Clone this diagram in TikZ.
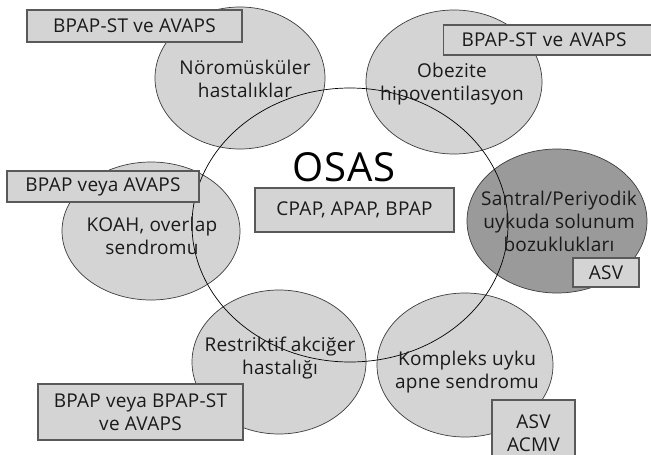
\documentclass[tikz,border=0pt]{standalone}
\usepackage{fontspec}
\setmainfont[LetterSpace=1.5]{Open Sans}
\definecolor{spotColor}{HTML}{D4D4D4}
\definecolor{darkColor}{HTML}{9A9A9A}
\definecolor{lineColor}{HTML}{3C3C3C}
\definecolor{textColor}{HTML}{1A1A1A}

\begin{document}
\begin{tikzpicture}[x=1pt,y=-1pt,
spot/.style={fill=spotColor,draw=lineColor,line width=0.7pt},
tag/.style={fill=spotColor,draw=lineColor!85,line width=1.1pt,inner sep=0pt,
    text=textColor,font=\fontsize{19}{23}\selectfont,align=center},
label/.style={text=textColor,font=\fontsize{19}{23}\selectfont,align=center},
]
\useasboundingbox (0,0) rectangle (651,455);
% disease groups
\path[spot]
    (240,78) ellipse [x radius=85pt,y radius=71pt]
    (454,82) ellipse [x radius=88pt,y radius=72pt]
    (465,365) ellipse [x radius=88pt,y radius=72pt]
    (279,362) ellipse [x radius=87pt,y radius=72pt]
    (151,231) ellipse [x radius=89pt,y radius=69pt];
\path[spot,fill=darkColor]
    (557,221) ellipse [x radius=90pt,y radius=72pt];
\draw[line width=0.7pt] (350,225) ellipse [x radius=158pt,y radius=137pt];
% texts
\node[label] (neuro) at (245,79) {Nöromüsküler\\hastalıklar};
\node[label] (obes) at (452,84) {Obezite\\hipoventilasyon};
\node[label] (santral) at (559,221) {Santral/Periyodik\\uykuda solunum\\bozuklukları};
\node[label] (kompleks) at (467,372) {Kompleks uyku\\apne sendromu};
\node[label] (restr) at (280,358) {Restriktif akciğer\\hastalığı};
\node[label] (koah) at (152,236) {KOAH, overlap\\sendromu};
\node[text=black,font=\fontsize{40}{44}\selectfont] (osas) at (344,167) {OSAS};
% devices
\node[tag,minimum width=215pt,minimum height=32pt] (tagNeuro) at (134.5,26) {BPAP-ST ve AVAPS};
\node[tag,anchor=west,minimum height=30pt,text width=190pt,inner xsep=18pt,align=left]
    (tagObes) at (443,40) {BPAP-ST ve AVAPS};
\node[tag,minimum width=192pt,minimum height=31pt] (tagKoah) at (103,186.5) {BPAP veya AVAPS};
\node[tag,minimum width=199pt,minimum height=44pt] (tagOsas) at (354.5,210) {CPAP, APAP, BPAP};
\node[tag,minimum width=66pt,minimum height=29pt] (tagSantral) at (606,272.5) {ASV};
\node[tag,minimum width=83pt,minimum height=66pt] (tagKompleks) at (533.5,433) {ASV\\ACMV};
\node[tag,minimum width=205pt,minimum height=56pt] (tagRestr) at (140.5,412) {BPAP veya BPAP-ST\\ve AVAPS};
\end{tikzpicture}
\end{document}
